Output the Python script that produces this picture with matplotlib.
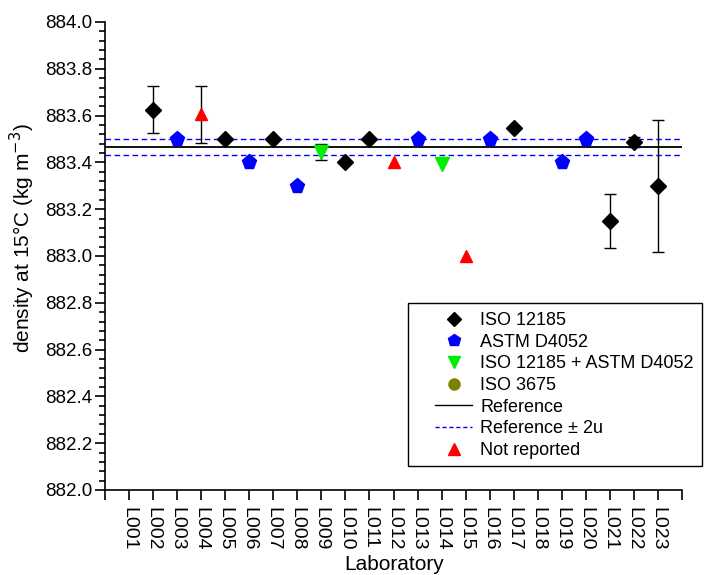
import matplotlib
matplotlib.use("Agg")
import matplotlib.pyplot as plt
import numpy as np
from matplotlib.ticker import MultipleLocator, FormatStrFormatter
from matplotlib.lines import Line2D
from matplotlib.patches import Rectangle

plt.rcParams['font.family'] = ['Liberation Sans', 'DejaVu Sans']

labs = ["L%03d" % i for i in range(1, 24)]

# ISO 12185
iso_labs = ["L002", "L005", "L007", "L010", "L011", "L017", "L021", "L022", "L023"]
iso_vals = [883.625, 883.50, 883.50, 883.40, 883.50, 883.545, 883.15, 883.487, 883.30]
iso_err = [0.10, 0, 0, 0, 0, 0, 0.115, 0.02, 0.283]

# ASTM D4052
astm_labs = ["L003", "L006", "L008", "L013", "L016", "L019", "L020"]
astm_vals = [883.50, 883.40, 883.30, 883.50, 883.50, 883.40, 883.50]

# ISO 12185 + ASTM D4052
both_labs = ["L009", "L014"]
both_vals = [883.445, 883.395]
both_err = [0.035, 0]

# Not reported
nr_labs = ["L004", "L012", "L015"]
nr_vals = [883.605, 883.40, 883.00]
nr_err = [0.12, 0, 0]

reference = 883.465
ref_low, ref_high = 883.43, 883.50

def pos(ls):
    return [labs.index(l) + 1 for l in ls]

W, H = 711, 575
fig = plt.figure(figsize=(W/100, H/100), dpi=100)
ax = fig.add_axes([105/W, 1 - 490/H, (682-105)/W, (490-22)/H])

ax.hlines(reference, 0, 24, color='black', lw=1.3, zorder=2)
ax.hlines([ref_low, ref_high], 0, 24, color='blue', lw=1.0, linestyles=(0, (4, 2.5)), zorder=2)

def eb(x, y, e):
    x = np.array(x); y = np.array(y); e = np.array(e)
    m = e > 0
    if m.any():
        ax.errorbar(x[m], y[m], yerr=e[m], fmt='none', ecolor='black', elinewidth=1,
                    capsize=4, capthick=1, zorder=3)

eb(pos(iso_labs), iso_vals, iso_err)
eb(pos(both_labs), both_vals, both_err)
eb(pos(nr_labs), nr_vals, nr_err)

ax.plot(pos(iso_labs), iso_vals, 'D', color='black', ms=8, ls='none', zorder=4)
ax.plot(pos(astm_labs), astm_vals, 'p', color='blue', ms=11, ls='none', zorder=4)
ax.plot(pos(both_labs), both_vals, 'v', color='#00ee00', ms=10, ls='none', zorder=4)
ax.plot(pos(nr_labs), nr_vals, '^', color='red', ms=9, ls='none', zorder=4)

ax.set_xlim(0, 24)
ax.set_ylim(882.0, 884.0)
ax.set_xticks(range(0, 25))
ax.set_xticklabels([""] + labs + [""], rotation=-90, fontsize=14)
ax.yaxis.set_major_locator(MultipleLocator(0.2))
ax.yaxis.set_minor_locator(MultipleLocator(0.04))
ax.yaxis.set_major_formatter(FormatStrFormatter('%.1f'))
ax.tick_params(axis='y', which='major', direction='out', length=7, width=1.2, labelsize=13.5, pad=2)
ax.tick_params(axis='y', which='minor', direction='out', length=4, width=1.2)
ax.tick_params(axis='x', which='major', direction='out', length=7, width=1.2, pad=5)
for s in ['top', 'right']:
    ax.spines[s].set_visible(False)
for s in ['left', 'bottom']:
    ax.spines[s].set_linewidth(1.2)

ax.set_ylabel("density at 15°C (kg m$^{-3}$)", fontsize=15, va='center', ha='center')
ax.yaxis.set_label_coords((22-105)/577, (490-238)/468)
ax.set_xlabel("Laboratory", fontsize=15, va='bottom')
ax.xaxis.set_label_coords((394-105)/577, (490-574)/468)

handles = [
    Line2D([], [], marker='D', color='black', ls='none', ms=7),
    Line2D([], [], marker='p', color='blue', ls='none', ms=9),
    Line2D([], [], marker='v', color='#00ee00', ls='none', ms=9),
    Line2D([], [], marker='o', color='#808000', ls='none', ms=8),
    Line2D([], [], color='black', lw=1),
    Line2D([], [], color='blue', lw=1, ls=(0, (3, 2))),
    Line2D([], [], marker='^', color='red', ls='none', ms=9),
]
names = ["ISO 12185", "ASTM D4052", "ISO 12185 + ASTM D4052", "ISO 3675",
         "Reference", "Reference ± 2u", "Not reported"]
fig.patches.append(Rectangle((408/W, 1 - 466/H), (702-408)/W, (466-303)/H,
                             transform=fig.transFigure, fill=True, facecolor='white',
                             edgecolor='black', lw=1.0, zorder=5))
leg = fig.legend(handles, names, loc='upper left', bbox_to_anchor=(435/W, 1 - 312/H),
                 fontsize=13, frameon=False, borderpad=0, borderaxespad=0,
                 handlelength=2.05, handletextpad=0.45, labelspacing=0.26)
leg.set_zorder(6)

fig.savefig("out.png", dpi=100)
